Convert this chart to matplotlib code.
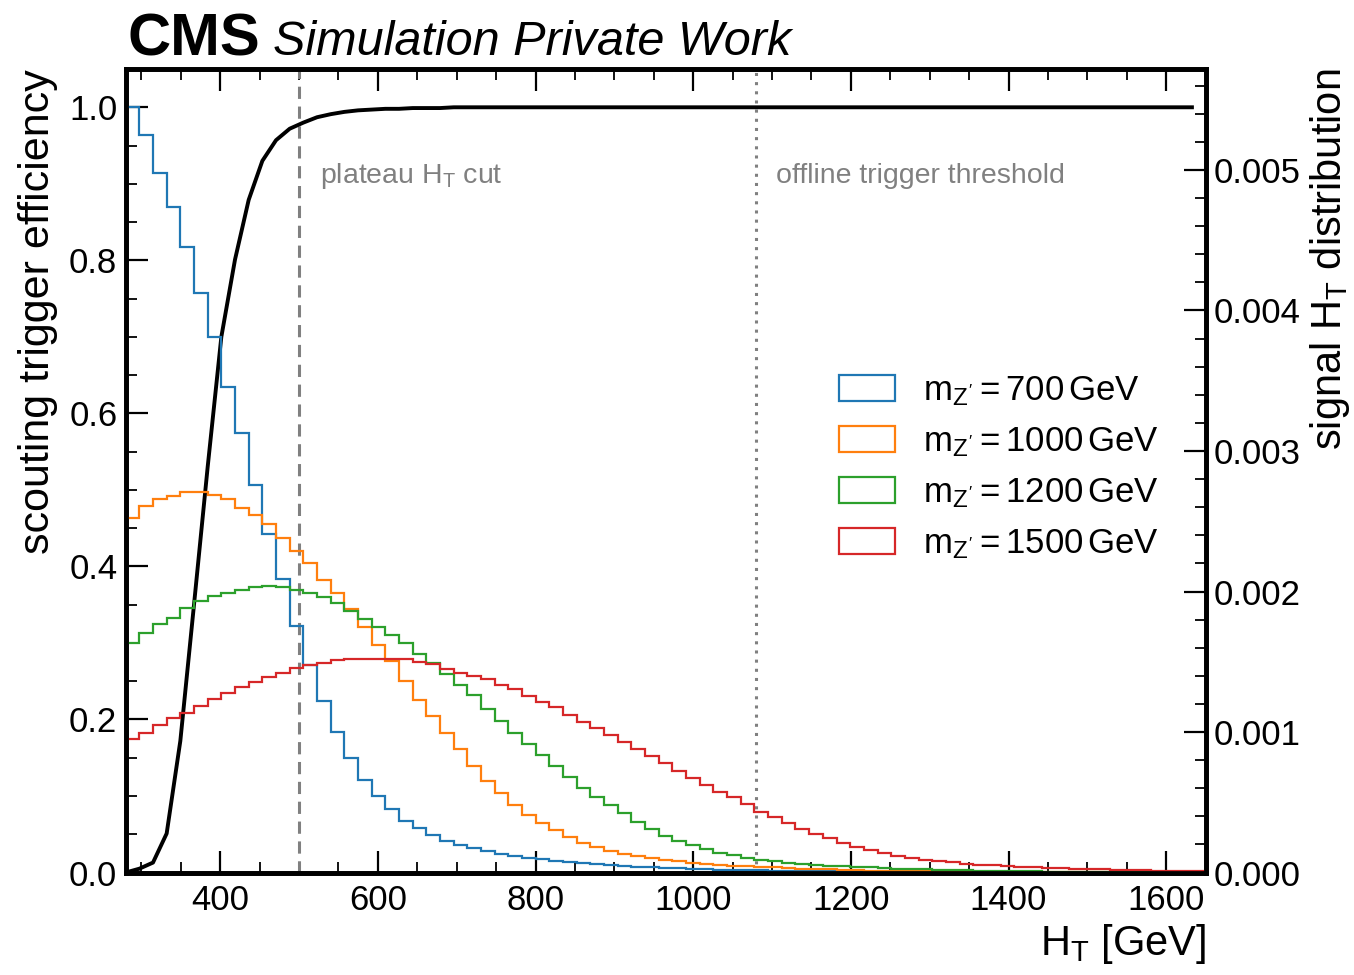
"""
Scouting trigger efficiency vs HT with signal HT distributions
for several Z' masses (CMS simulation style).
"""

import numpy as np
import matplotlib
matplotlib.use("Agg")
import matplotlib.pyplot as plt
from matplotlib.patches import Patch
from matplotlib.ticker import MultipleLocator, AutoMinorLocator, FormatStrFormatter


plt.rcParams["font.family"] = ["Liberation Sans", "DejaVu Sans"]
plt.rcParams["mathtext.fontset"] = "custom"
plt.rcParams["mathtext.rm"] = "Liberation Sans"
plt.rcParams["mathtext.it"] = "Liberation Sans"
plt.rcParams["mathtext.bf"] = "Liberation Sans:bold"

# binning of the HT histograms (GeV)
HT_MIN = 280
HT_MAX = 1650
N_EDGES = 80

PLATEAU_CUT = 500
OFFLINE_THRESHOLD = 1080

# trigger efficiency, evaluated at the lower bin edges
efficiency = [
    0.000, 0.005, 0.013, 0.051, 0.172, 0.350, 0.530, 0.700, 0.801, 0.879,
    0.930, 0.957, 0.972, 0.980, 0.987, 0.991, 0.994, 0.996, 0.997, 0.998,
    0.998, 0.999, 0.999, 0.999, 1.000, 1.000, 1.000, 1.000, 1.000, 1.000,
    1.000, 1.000, 1.000, 1.000, 1.000, 1.000, 1.000, 1.000, 1.000, 1.000,
    1.000, 1.000, 1.000, 1.000, 1.000, 1.000, 1.000, 1.000, 1.000, 1.000,
    1.000, 1.000, 1.000, 1.000, 1.000, 1.000, 1.000, 1.000, 1.000, 1.000,
    1.000, 1.000, 1.000, 1.000, 1.000, 1.000, 1.000, 1.000, 1.000, 1.000,
    1.000, 1.000, 1.000, 1.000, 1.000, 1.000, 1.000, 1.000, 1.000,
]

# normalised signal HT distributions, in units of 1e-3 / GeV
mass_labels = ["700", "1000", "1200", "1500"]

ht_700 = [
    5.446, 5.249, 4.981, 4.739, 4.450, 4.122, 3.813, 3.458, 3.126, 2.758,
    2.407, 2.089, 1.754, 1.477, 1.221, 1.002, 0.812, 0.658, 0.544, 0.450,
    0.369, 0.315, 0.267, 0.226, 0.198, 0.174, 0.151, 0.132, 0.117, 0.103,
    0.094, 0.084, 0.075, 0.065, 0.061, 0.053, 0.046, 0.041, 0.036, 0.033,
    0.030, 0.027, 0.024, 0.021, 0.019, 0.017, 0.015, 0.013, 0.011, 0.010,
    0.009, 0.008, 0.007, 0.006, 0.005, 0.004, 0.004, 0.003, 0.003, 0.002,
    0.002, 0.002, 0.001, 0.001, 0.001, 0.001, 0.001, 0.000, 0.000, 0.000,
    0.000, 0.000, 0.000, 0.000, 0.000, 0.000, 0.000, 0.000, 0.000,
]

ht_1000 = [
    2.523, 2.609, 2.661, 2.680, 2.708, 2.708, 2.685, 2.656, 2.594, 2.542,
    2.480, 2.381, 2.286, 2.201, 2.085, 1.991, 1.873, 1.745, 1.617, 1.503,
    1.365, 1.228, 1.114, 0.995, 0.877, 0.758, 0.653, 0.568, 0.483, 0.411,
    0.350, 0.302, 0.251, 0.212, 0.184, 0.155, 0.132, 0.117, 0.103, 0.089,
    0.080, 0.070, 0.060, 0.054, 0.050, 0.045, 0.040, 0.036, 0.032, 0.028,
    0.025, 0.022, 0.019, 0.016, 0.014, 0.012, 0.010, 0.009, 0.008, 0.007,
    0.006, 0.005, 0.004, 0.004, 0.003, 0.003, 0.002, 0.002, 0.002, 0.001,
    0.001, 0.001, 0.001, 0.000, 0.000, 0.000, 0.000, 0.000, 0.000,
]

ht_1200 = [
    1.631, 1.703, 1.769, 1.811, 1.883, 1.934, 1.968, 1.991, 2.011, 2.030,
    2.039, 2.030, 2.011, 1.991, 1.963, 1.920, 1.859, 1.806, 1.745, 1.688,
    1.631, 1.555, 1.489, 1.413, 1.332, 1.261, 1.166, 1.080, 0.995, 0.915,
    0.834, 0.758, 0.682, 0.601, 0.535, 0.480, 0.421, 0.362, 0.307, 0.260,
    0.226, 0.194, 0.165, 0.141, 0.122, 0.103, 0.089, 0.080, 0.070, 0.063,
    0.056, 0.050, 0.045, 0.040, 0.036, 0.032, 0.028, 0.025, 0.022, 0.019,
    0.017, 0.015, 0.013, 0.011, 0.010, 0.009, 0.008, 0.007, 0.006, 0.005,
    0.004, 0.004, 0.003, 0.003, 0.002, 0.002, 0.001, 0.001, 0.001,
]

ht_1500 = [
    0.948, 0.995, 1.048, 1.098, 1.137, 1.185, 1.233, 1.275, 1.318, 1.356,
    1.389, 1.422, 1.456, 1.479, 1.493, 1.512, 1.522, 1.522, 1.517, 1.517,
    1.517, 1.498, 1.484, 1.450, 1.422, 1.399, 1.375, 1.332, 1.304, 1.256,
    1.214, 1.180, 1.123, 1.071, 1.028, 0.977, 0.929, 0.877, 0.829, 0.777,
    0.725, 0.673, 0.621, 0.575, 0.535, 0.488, 0.434, 0.393, 0.350, 0.307,
    0.274, 0.243, 0.212, 0.179, 0.160, 0.137, 0.117, 0.101, 0.089, 0.082,
    0.072, 0.060, 0.056, 0.052, 0.046, 0.042, 0.037, 0.033, 0.030, 0.027,
    0.025, 0.022, 0.020, 0.018, 0.016, 0.014, 0.012, 0.010, 0.009,
]

colors = ["#1f77b4", "#ff7f0e", "#2ca02c", "#d62728"]


def style_ticks(axis_obj, labelsize=25):
    axis_obj.tick_params(which="both", direction="in", labelsize=labelsize)
    axis_obj.tick_params(which="major", length=16, width=1.6)
    axis_obj.tick_params(which="minor", length=8, width=1.3)


def main() -> None:
    bins = np.linspace(HT_MIN, HT_MAX, N_EDGES)
    hists = [ht_700, ht_1000, ht_1200, ht_1500]

    fig = plt.figure(figsize=(13.54, 9.75), dpi=100)
    ax = fig.add_axes([0.0928, 0.1051, 0.7976, 0.8241])
    ax2 = ax.twinx()

    # efficiency curve on the left axis
    ax.plot(bins[:-1], efficiency, color="black", lw=2.8, zorder=5)

    # signal distributions on the right axis
    handles = []
    labels = []
    for values, mass, color in zip(hists, mass_labels, colors):
        ax2.stairs(
            np.array(values) * 1e-3,
            bins,
            color=color,
            lw=1.6,
            baseline=None
        )
        handles.append(Patch(facecolor="none", edgecolor=color, lw=1.6))
        labels.append(r"$\mathrm{m}_{Z'} = " + mass + r"\,$GeV")

    ax.axvline(PLATEAU_CUT, color="grey", ls=(0, (4, 2.5)), lw=2.2)
    ax.axvline(OFFLINE_THRESHOLD, color="grey", ls=(0, (1, 2)), lw=2.2)

    ax.text(PLATEAU_CUT + 27, 0.91, r"plateau $H_T$ cut",
            color="grey", fontsize=20.5, va="center")
    ax.text(OFFLINE_THRESHOLD + 25, 0.91, "offline trigger threshold",
            color="grey", fontsize=20.5, va="center")

    ax.set_xlim(HT_MIN, HT_MAX)
    ax.set_ylim(0, 1.05)
    ax2.set_ylim(0, 1.05 * max(ht_700) * 1e-3)

    ax.xaxis.set_major_locator(MultipleLocator(200))
    ax.xaxis.set_minor_locator(AutoMinorLocator(4))
    ax.yaxis.set_major_locator(MultipleLocator(0.2))
    ax.yaxis.set_minor_locator(AutoMinorLocator(4))
    ax.yaxis.set_major_formatter(FormatStrFormatter("%.1f"))
    ax2.yaxis.set_major_locator(MultipleLocator(0.001))
    ax2.yaxis.set_minor_locator(AutoMinorLocator(5))
    ax2.yaxis.set_major_formatter(FormatStrFormatter("%.3f"))

    style_ticks(ax)
    style_ticks(ax2)
    ax.tick_params(axis="x", which="both", top=True, pad=8)
    ax.tick_params(axis="y", which="both", right=False, pad=6)
    ax2.tick_params(axis="y", which="both", right=True, pad=6)

    for a in (ax, ax2):
        for spine in a.spines.values():
            spine.set_linewidth(3.4)

    ax.set_xlabel(r"$H_T$ [GeV]", fontsize=30, loc="right")
    ax.set_ylabel("scouting trigger efficiency", fontsize=31, loc="top",
                  labelpad=8)
    ax2.set_ylabel(r"signal $H_T$ distribution", fontsize=30, loc="top",
                   labelpad=5)

    ax2.legend(
        handles,
        labels,
        loc="center left",
        bbox_to_anchor=(0.632, 0.504),
        frameon=False,
        fontsize=25,
        handlelength=1.6,
        handleheight=0.75,
        handletextpad=0.8,
        labelspacing=0.5
    )

    fig.text(128 / 1354, 1 - 55 / 975, "CMS", fontsize=43,
             fontweight="bold", va="baseline")
    fig.text(273 / 1354, 1 - 55 / 975, "Simulation Private Work",
             fontsize=35, style="italic", va="baseline")

    fig.savefig("out.png", dpi=100)
    plt.close(fig)


if __name__ == "__main__":
    main()
